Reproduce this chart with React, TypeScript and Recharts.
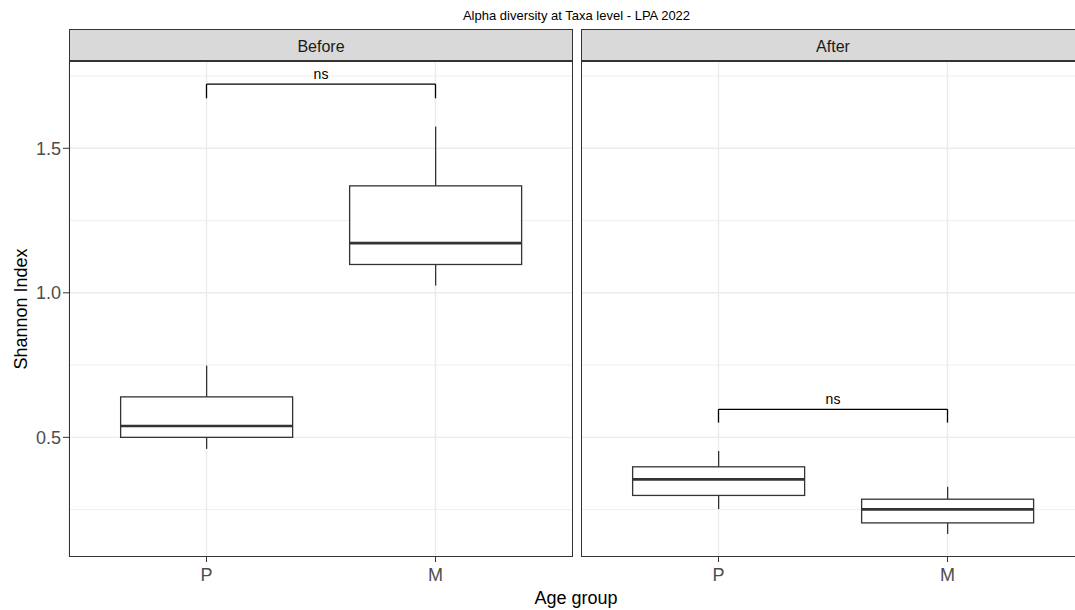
import React from "react";
import {
  Bar,
  CartesianGrid,
  ComposedChart,
  ReferenceLine,
  XAxis,
  YAxis,
} from "recharts";

const categories = ["P", "M"];

const beforeMin = [0.46, 1.025];
const beforeQ1 = [0.5, 1.098];
const beforeMedian = [0.539, 1.172];
const beforeQ3 = [0.64, 1.37];
const beforeMax = [0.748, 1.575];

const afterMin = [0.252, 0.166];
const afterQ1 = [0.299, 0.204];
const afterMedian = [0.3545, 0.2506];
const afterQ3 = [0.398, 0.286];
const afterMax = [0.4525, 0.329];

// significance brackets: [horizontal bar, leg end]
const beforeBracket = [1.722, 1.673];
const afterBracket = [0.597, 0.551];

const yTicks = [0.5, 1.0, 1.5];
const minorGrid = [0.25, 0.75, 1.25, 1.75];
const yDomain = [0.086, 1.802];

const buildRows = (
  mins: number[],
  q1s: number[],
  meds: number[],
  q3s: number[],
  maxs: number[]
) =>
  categories.map((group, i) => ({
    group,
    min: mins[i],
    q1: q1s[i],
    median: meds[i],
    q3: q3s[i],
    max: maxs[i],
  }));

const beforeData = buildRows(beforeMin, beforeQ1, beforeMedian, beforeQ3, beforeMax);
const afterData = buildRows(afterMin, afterQ1, afterMedian, afterQ3, afterMax);

const INK = "#333333";
const FONT = "'Liberation Sans', Arial, sans-serif";

const BoxShape = (props: any) => {
  const { x, y, width, height, payload } = props;
  if (!payload) return null;
  const top = Math.min(y, y + height);
  const h = Math.abs(height);
  const span = payload.max - payload.min;
  const pos = (v: number) => top + (h * (payload.max - v)) / span;
  const cx = x + width / 2;
  return (
    <g>
      <line x1={cx} x2={cx} y1={pos(payload.max)} y2={pos(payload.q3)} stroke={INK} strokeWidth={1.3} />
      <line x1={cx} x2={cx} y1={pos(payload.q1)} y2={pos(payload.min)} stroke={INK} strokeWidth={1.3} />
      <rect
        x={x}
        y={pos(payload.q3)}
        width={width}
        height={pos(payload.q1) - pos(payload.q3)}
        fill="#ffffff"
        stroke={INK}
        strokeWidth={1.3}
      />
      <line x1={x} x2={x + width} y1={pos(payload.median)} y2={pos(payload.median)} stroke={INK} strokeWidth={2.6} />
    </g>
  );
};

interface PanelProps {
  data: any[];
  bracket: number[];
  showY: boolean;
  width: number;
}

const Panel: React.FC<PanelProps> = ({ data, bracket, showY, width }) => {
  const [barY, legY] = bracket;
  return (
    <ComposedChart
      width={width}
      height={531}
      data={data}
      margin={{ top: 0, right: 0, bottom: 0, left: 0 }}
      barCategoryGap="12.5%"
    >
      <CartesianGrid
        stroke="#EBEBEB"
        strokeWidth={0.8}
        vertical={false}
        horizontalValues={minorGrid}
      />
      <CartesianGrid
        stroke="#EBEBEB"
        strokeWidth={1.4}
        horizontalValues={yTicks}
      />
      <XAxis
        dataKey="group"
        padding={{ left: 23, right: 23 }}
        height={35}
        axisLine={false}
        tickSize={5}
        tickMargin={6}
        tickLine={{ stroke: INK }}
        tick={{ fontSize: 18, fill: "#4D4D4D", fontFamily: FONT }}
      />
      <YAxis
        type="number"
        domain={yDomain}
        allowDataOverflow
        ticks={yTicks}
        hide={!showY}
        width={showY ? 69 : 0}
        axisLine={false}
        tickSize={6}
        tickMargin={2}
        tickLine={{ stroke: INK }}
        tickFormatter={(v: number) => v.toFixed(1)}
        tick={{ fontSize: 18, fill: "#4D4D4D", fontFamily: FONT }}
      />
      <Bar
        dataKey={(d: any) => [d.min, d.max]}
        shape={BoxShape}
        isAnimationActive={false}
      />
      <ReferenceLine
        segment={[
          { x: categories[0], y: barY },
          { x: categories[1], y: barY },
        ]}
        stroke="#000"
        strokeWidth={1.3}
        label={{ value: "ns", position: "top", fontSize: 14, fill: "#000", fontFamily: FONT }}
      />
      <ReferenceLine
        segment={[
          { x: categories[0], y: legY },
          { x: categories[0], y: barY },
        ]}
        stroke="#000"
        strokeWidth={1.3}
      />
      <ReferenceLine
        segment={[
          { x: categories[1], y: legY },
          { x: categories[1], y: barY },
        ]}
        stroke="#000"
        strokeWidth={1.3}
      />
    </ComposedChart>
  );
};

const stripStyle = (left: number): React.CSSProperties => ({
  position: "absolute",
  left,
  top: 29,
  width: 504,
  height: 32,
  boxSizing: "border-box",
  background: "#D9D9D9",
  border: `1.3px solid ${INK}`,
  color: "#1A1A1A",
  fontSize: 16,
  fontFamily: FONT,
  paddingTop: 4,
  display: "flex",
  alignItems: "center",
  justifyContent: "center",
});

const borderStyle = (left: number): React.CSSProperties => ({
  position: "absolute",
  left,
  top: 61,
  width: 504,
  height: 496,
  boxSizing: "border-box",
  border: `1.3px solid ${INK}`,
  pointerEvents: "none",
});

export default function App() {
  return (
    <div
      style={{
        position: "absolute",
        left: 0,
        top: 0,
        width: 1075,
        height: 610,
        overflow: "hidden",
        background: "#fff",
        fontFamily: FONT,
      }}
    >
      <div
        style={{
          position: "absolute",
          left: 0,
          width: 1153,
          top: 8,
          textAlign: "center",
          fontSize: 13,
          color: "#000",
        }}
      >
        Alpha diversity at Taxa level - LPA 2022
      </div>
      <div style={{ position: "absolute", left: 0, top: 61 }}>
        <Panel data={beforeData} bracket={beforeBracket} showY width={573} />
      </div>
      <div style={{ position: "absolute", left: 581, top: 61 }}>
        <Panel data={afterData} bracket={afterBracket} showY={false} width={504} />
      </div>
      <div style={borderStyle(69)} />
      <div style={borderStyle(581)} />
      <div style={stripStyle(69)}>Before</div>
      <div style={stripStyle(581)}>After</div>
      <div
        style={{
          position: "absolute",
          left: 21,
          top: 309,
          transform: "translate(-50%, -50%) rotate(-90deg)",
          whiteSpace: "nowrap",
          fontSize: 18,
          color: "#000",
        }}
      >
        Shannon Index
      </div>
      <div
        style={{
          position: "absolute",
          left: 576,
          top: 598,
          transform: "translate(-50%, -50%)",
          whiteSpace: "nowrap",
          fontSize: 18,
          color: "#000",
        }}
      >
        Age group
      </div>
    </div>
  );
}
